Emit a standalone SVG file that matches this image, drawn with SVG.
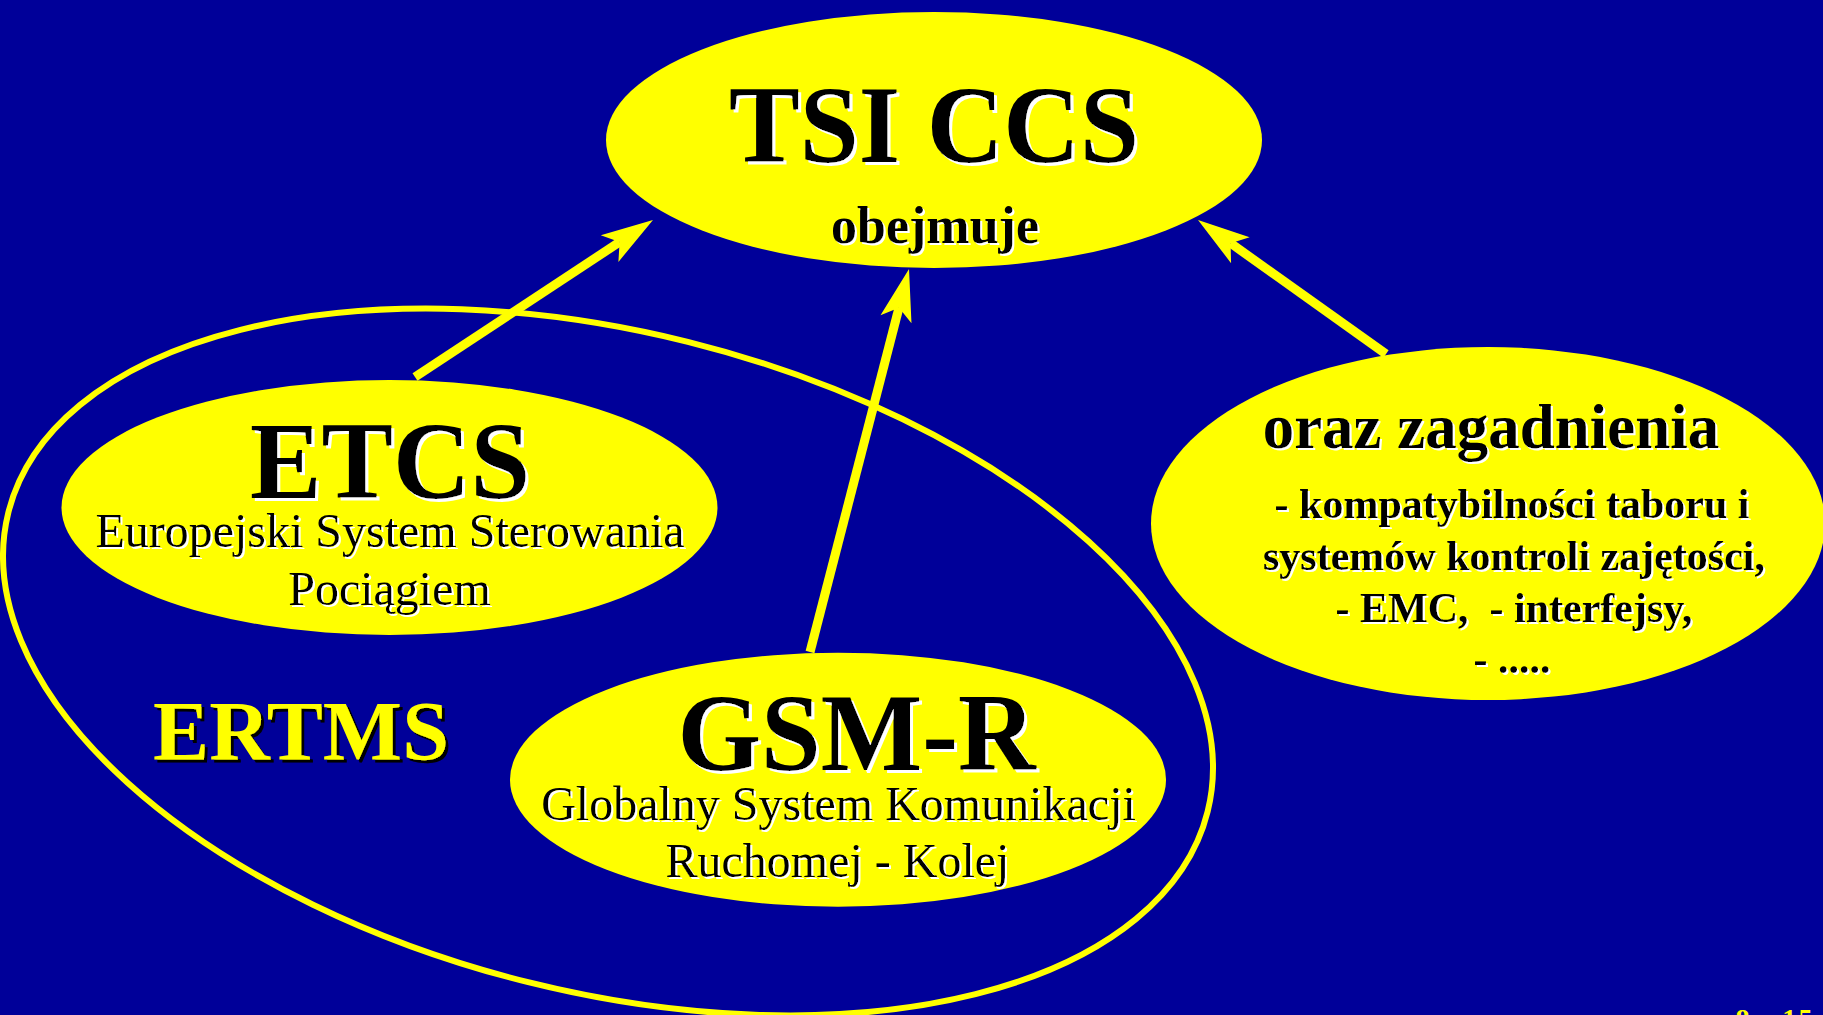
<svg xmlns="http://www.w3.org/2000/svg" width="1823" height="1015" viewBox="0 0 1823 1015">
<style>
.node{fill:#ffff00}
.t{font-family:"Liberation Serif","Times New Roman",serif;text-anchor:middle;fill:#000}
.b{font-weight:bold}
.big{font-size:110px;filter:url(#wsh3)}
.sub{font-size:48px;filter:url(#wsh2)}
.bul{font-size:42px;font-weight:bold;filter:url(#wsh2);white-space:pre}
.conn{stroke:#ffff00;stroke-width:9;fill:none;marker-end:url(#ah)}
</style>
<defs>
<filter id="wsh3" x="-5%" y="-10%" width="115%" height="130%"><feDropShadow dx="3" dy="3" stdDeviation="0" flood-color="#ffffff" flood-opacity="1"/></filter>
<filter id="wsh2" x="-5%" y="-10%" width="115%" height="130%"><feDropShadow dx="2" dy="2" stdDeviation="0" flood-color="#ffffff" flood-opacity="1"/></filter>
<filter id="ksh3" x="-5%" y="-10%" width="115%" height="130%"><feDropShadow dx="3" dy="3" stdDeviation="0" flood-color="#000000" flood-opacity="1"/></filter>
<marker id="ah" markerUnits="userSpaceOnUse" viewBox="-54 -18 56 36" refX="-40" refY="0" markerWidth="56" markerHeight="36" orient="auto">
<path d="M0,0 L-52,-16 L-40,0 L-52,16 Z" fill="#ffff00"/>
</marker>
</defs>
<rect x="0" y="0" width="1823" height="1015" fill="#000099"/>

<g id="ertms">
<ellipse cx="608" cy="662" rx="618" ry="330" transform="rotate(14 608 662)" fill="none" stroke="#ffff00" stroke-width="6"/>
<text class="t b" x="301" y="760" style="font-size:84px;fill:#ffff00;filter:url(#ksh3)">ERTMS</text>
</g>

<g id="connectors">
<line class="conn" x1="415" y1="377" x2="619.6" y2="242"/>
<line class="conn" x1="810" y1="652" x2="899" y2="307.7"/>
<line class="conn" x1="1386" y1="354" x2="1230.6" y2="243.2"/>
</g>

<g id="tsi-ccs">
<ellipse class="node" cx="934" cy="140" rx="328" ry="128"/>
<text class="t b big" x="934" y="162" textLength="410" lengthAdjust="spacingAndGlyphs">TSI CCS</text>
<text class="t b" x="935" y="243" style="font-size:52px;filter:url(#wsh2)">obejmuje</text>
</g>

<g id="etcs">
<ellipse class="node" cx="389.5" cy="507.5" rx="328" ry="127.5"/>
<text class="t b big" x="390" y="498" textLength="280" lengthAdjust="spacingAndGlyphs">ETCS</text>
<text class="t sub" x="390" y="547">Europejski System Sterowania</text>
<text class="t sub" x="389.5" y="605">Pociągiem</text>
</g>

<g id="gsm-r">
<ellipse class="node" cx="838" cy="779.7" rx="328" ry="127"/>
<text class="t b big" x="856.5" y="770" textLength="358" lengthAdjust="spacingAndGlyphs">GSM-R</text>
<text class="t sub" x="838.5" y="820">Globalny System Komunikacji</text>
<text class="t sub" x="837.5" y="877">Ruchomej - Kolej</text>
</g>

<g id="zagadnienia">
<ellipse class="node" cx="1488" cy="523.5" rx="337" ry="176.5"/>
<text class="t b" x="1491" y="448" style="font-size:63px;filter:url(#wsh2)">oraz zagadnienia</text>
<text class="t bul" x="1512" y="518">- kompatybilności taboru i</text>
<text class="t bul" x="1514" y="570">systemów kontroli zajętości,</text>
<text class="t bul" x="1514" y="622">- EMC,  - interfejsy,</text>
<text class="t bul" x="1512" y="673">- .....</text>
</g>

<text class="t b" x="1774" y="1028" style="font-size:28px;fill:#ffff00" textLength="77" lengthAdjust="spacing">8 - 15</text>
</svg>
